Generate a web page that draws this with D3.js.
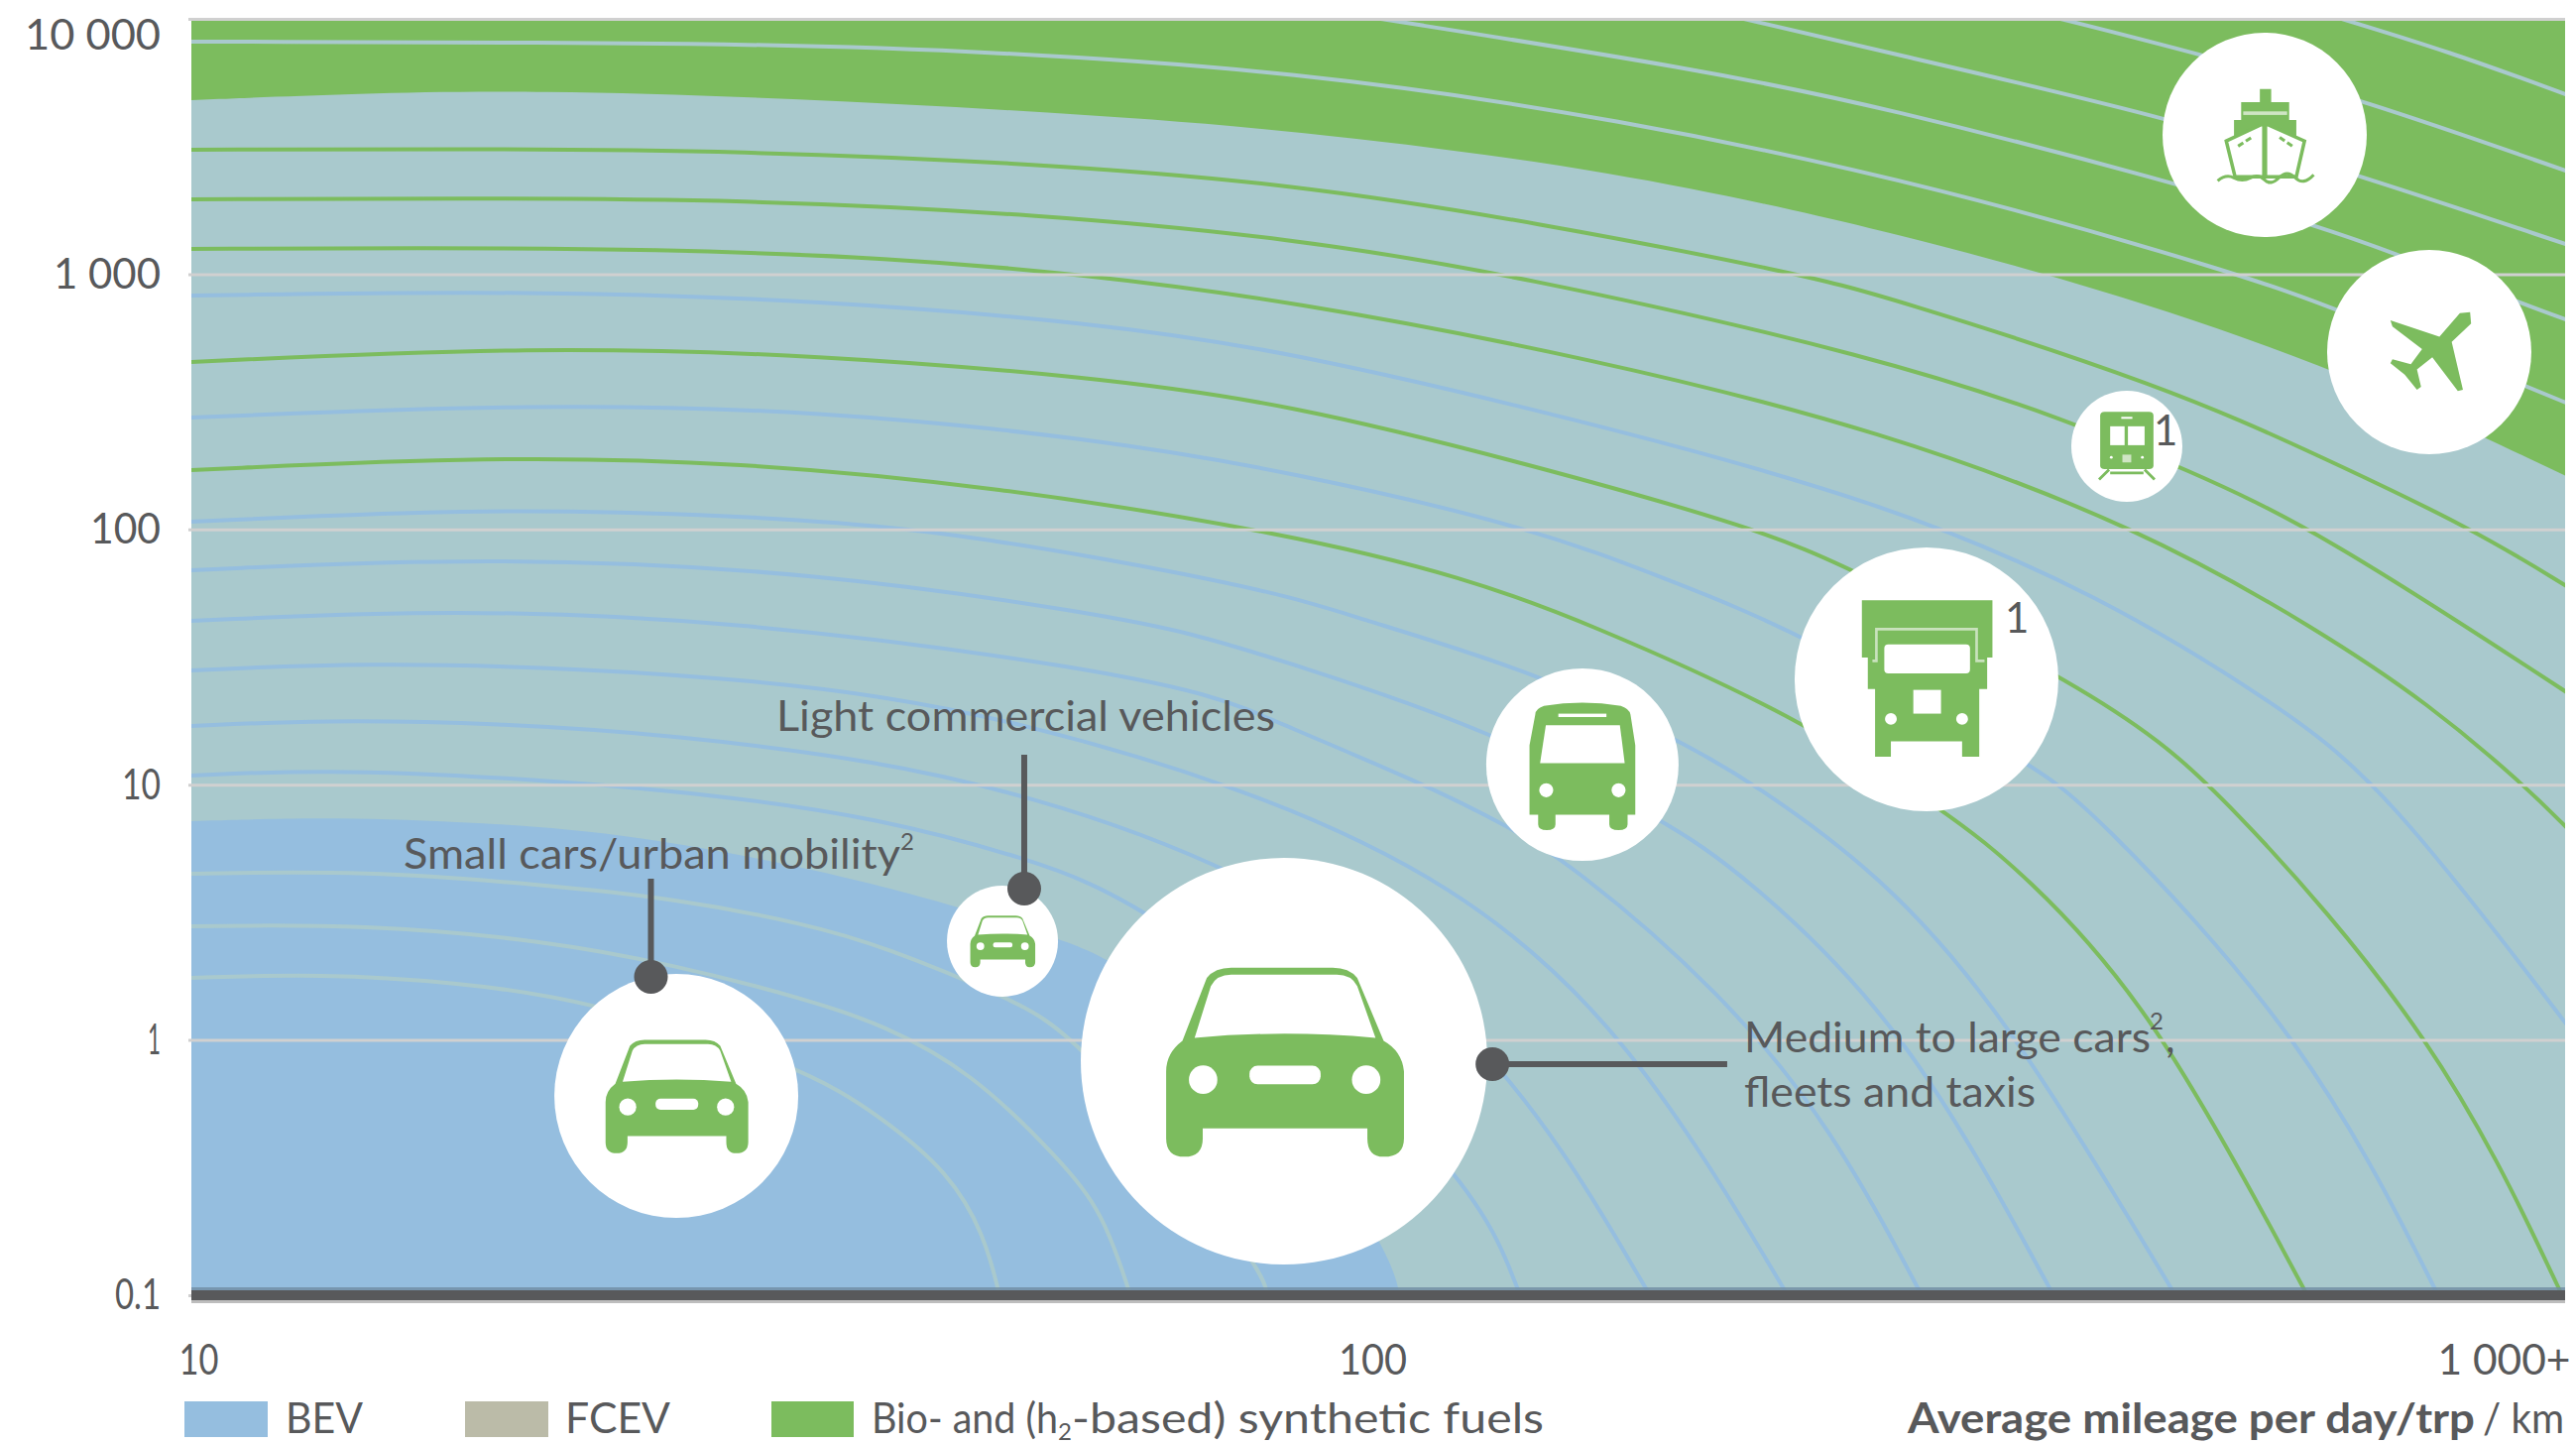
<!DOCTYPE html>
<html><head><meta charset="utf-8"><style>html,body{margin:0;background:#fff}svg{display:block}text{font-family:Lato,sans-serif;fill:#58595b}</style>
<script src="https://cdn.jsdelivr.net/npm/d3@7"></script></head><body>
<script>
// [average mileage per day/trip in km, y-axis value]
const line_top_4=[[640,10180],[798.5,7444],[1006,5022]];
const line_top_3=[[369.9,10180],[490.8,7312],[676.7,4802],[1006,2522]];
const line_top_2=[[199.9,10180],[266.7,7444],[458.8,4162],[676.7,2411],[1006,1301]];
const line_top_1=[[98.09,10180],[186.9,6337],[266.7,4511],[465.9,2306],[621.8,1528],[718.3,1211],[918.8,767.4],[1006,659.1]];
const line_top_0=[[10,8140],[28.97,8068],[47.23,7444],[84.1,6280],[159.3,4088],[301.1,2166],[534.1,994.6],[637.5,740.4],[938.5,355.5],[1006,310.9]];
const green_1=[[10,3070],[17.04,3098],[28.97,3043],[51.99,2709],[84.1,2265],[135.8,1598],[226.1,1004],[266.7,824.3],[462.4,362],[621.8,193.5],[836.2,100.7],[1006,59.41]];
const green_2=[[10,1963],[17.04,1981],[28.97,1963],[51.99,1717],[84.1,1385],[129.4,1004],[266.7,469.2],[383.7,264.7],[478.7,172.3],[617,100.7],[1006,22.81]];
const green_3=[[10,1255],[15.48,1266],[24.7,1255],[38.96,1158],[55.72,1004],[84.1,788.2],[149.8,473.4],[266.7,244.2],[439.8,100.7],[621.8,40.08],[768.3,20.68],[920.6,10.11],[1006,6.698]];
const blue_1=[[10,824.3],[19.46,862],[33.99,788.2],[57.24,647.4],[84.1,499.5],[149.8,264.7],[266.7,128.2],[407.2,54.82],[571.3,20.68],[701.9,10.11],[1006,1.129]];
const green_4=[[10,452.7],[19.46,522.3],[33.99,481.9],[57.24,395.8],[84.1,310.9],[136,177],[208.9,100.7],[250.3,70.42],[374.2,27.04],[434.8,17.29],[506.1,10.11],[784.8,1.014],[994.2,0.1]];
const blue_2=[[10,274.3],[19.46,310.9],[33.99,292],[57.24,227.3],[84.1,169.2],[135.8,100.7],[174,64.4],[226.9,39.73],[355.9,11.87],[391.9,8.76],[607.6,1.014],[781.7,0.1]];
const green_5=[[10,170.7],[17.95,193.5],[28.97,183.4],[47.23,148],[84.1,96.31],[118.9,64.4],[149.5,43.44],[225.2,18.57],[301.1,7.868],[349.8,4.519],[448.4,1.363],[606.4,0.1]];
const blue_3=[[10,107.2],[17.95,121.5],[28.97,113.1],[39.87,102.5],[57.24,79.11],[84.1,55.31],[94.21,46.25],[136.3,27.53],[179.8,14.85],[207.3,10.11],[264.2,4.519],[336.6,1.303],[469.5,0.1]];
const blue_4=[[10,69.17],[17.95,78.4],[33.99,67.95],[58.69,46.25],[69.39,39.37],[84.1,30.1],[124.5,16.39],[174.7,7.195],[202.6,4.519],[278.3,1.15],[370.6,0.1]];
const blue_5=[[10,43.83],[16.59,48.8],[28.97,43.83],[54.87,29.57],[72.8,22.61],[82.82,17.29],[109,10.11],[127.2,7.067],[145.2,4.942],[194.6,1.545],[242.3,0.4415],[287,0.1]];
const blue_6=[[10,28.03],[14.03,30.1],[21.54,28.53],[30.34,25.4],[38.22,22.21],[49.46,17.76],[75.66,10.11],[116.2,4.207],[163.6,1.042],[221.3,0.1]];
const blue_7=[[10,16.98],[12.87,17.92],[18.12,17.44],[25.57,15.67],[38.22,12.31],[50.32,9.161],[74.65,5.031],[123.3,1.224],[169.4,0.1]];
const blue_8=[[10,10.86],[12.87,11.46],[18.12,10.76],[27.88,9.161],[38.22,7.325],[49.84,5.261],[64.49,3.455],[118.7,0.3406],[131.7,0.1]];
const fcev_3=[[10,4.478],[14.03,4.6],[19.76,4.059],[25.57,3.581],[33.09,2.838],[38.22,2.331],[48.8,1.464],[56.05,1.042],[79.69,0.1308],[80.62,0.1]];
const fcev_2=[[10,2.788],[14.03,2.838],[19.76,2.459],[25.57,1.967],[33.09,1.438],[38.22,1.15],[45.36,0.7551],[53.93,0.3406],[58.69,0.2101],[61.82,0.1]];
const fcev_1=[[10,1.751],[12.87,1.814],[16.65,1.689],[21.54,1.438],[32.52,0.8039],[38.22,0.4959],[43.48,0.3032],[46.59,0.1726],[47.96,0.1]];
const greenBoundary=[[10,4802],[13.79,5112],[19.46,5251],[32.14,4889],[53,4313],[84.1,3705],[159.3,2544],[266.7,1488],[377.1,968.3],[621.8,460.8],[1006,160.4]];
const bevBoundary=[[10,7.195],[12.87,7.457],[16.65,7.195],[23.45,6.521],[38.22,4.132],[53.62,2.504],[59.26,2.131],[79.39,0.8258],[101.7,0.1592],[104.3,0.1]];
const bubbleKm=[25.62,48.24,83.3,148.6,289.7,427.3,768.3,558.3];
const bubbleValue=[0.6038,2.438,0.8258,11.98,25.86,211.6,495,3511];
const bubbleSize=[123,56,205,97,133,56,103,103];
const bubbleKind=['car','car','car','bus','truck','train','plane','ship'];
const yTicks=[0.1,1,10,100,1000,10000];
const yTickLabels=['0.1','1','10','100','1 000','10 000'];
const xTicks=[10,100,1000];
const xTickLabels=['10','100','1 000+'];
const legendLabels=['BEV','FCEV'];

const W=2598,H=1456;
const x=d3.scaleLog().domain([10,1000]).range([193,2587]);
const y=d3.scaleLog().domain([0.1,10000]).range([1306,19]);
const GREEN='#7cbc5e',BLUE='#95bedf',TEAL='#a9c9cd',FCEV='#bbbba8',INK='#58595b';
const line=d3.line().x(d=>x(d[0])).y(d=>y(d[1])).curve(d3.curveBasis);
const svg=d3.select('body').append('svg').attr('width',W).attr('height',H);
svg.append('defs').append('clipPath').attr('id','plot').append('rect').attr('x',193).attr('y',19).attr('width',2394).attr('height',1291);
const g=svg.append('g').attr('clip-path','url(#plot)');
g.append('rect').attr('x',193).attr('y',19).attr('width',2394).attr('height',1291).attr('fill',TEAL);
g.append('path').attr('d',line(greenBoundary)+`L${x(1000)+5},${y(10000)-5}L${x(10)},${y(10000)-5}Z`).attr('fill',GREEN);
g.append('path').attr('d',line(bevBoundary)+`L${x(10)},${y(0.1)+5}Z`).attr('fill',BLUE);
[[line_top_4,TEAL],[line_top_3,TEAL],[line_top_2,TEAL],[line_top_1,TEAL],[line_top_0,TEAL],
 [green_1,GREEN],[green_2,GREEN],[green_3,GREEN],[blue_1,BLUE],[green_4,GREEN],[blue_2,BLUE],[green_5,GREEN],
 [blue_3,BLUE],[blue_4,BLUE],[blue_5,BLUE],[blue_6,BLUE],[blue_7,BLUE],[blue_8,BLUE],
 [fcev_3,TEAL],[fcev_2,TEAL],[fcev_1,TEAL]].forEach(([d,c])=>
 g.append('path').datum(d).attr('d',line).attr('fill','none').attr('stroke',c).attr('stroke-width',4));

const yWidths=[46,13,39,71,108,137];
const yAxis=d3.axisLeft(y).tickValues(yTicks).tickSize(-2397).tickPadding(0).tickFormat((d,i)=>yTickLabels[i]);
const ya=svg.append('g').attr('transform','translate(190,0)').call(yAxis);
ya.select('.domain').remove();
ya.selectAll('line').attr('stroke','#d0d0d0').attr('stroke-width',3);
ya.selectAll('text').attr('x',-28).attr('dy',null).attr('y',d=>d===10000?30:(d===0.1?13:14)).attr('font-size',42).attr('text-anchor','end').attr('textLength',(d,i)=>yWidths[i]).attr('lengthAdjust','spacingAndGlyphs');
const xWidths=[40,69,134];
const xAxis=d3.axisBottom(x).tickValues(xTicks).tickSize(0).tickFormat((d,i)=>xTickLabels[i]);
const xa=svg.append('g').attr('transform','translate(0,1306)').call(xAxis);
xa.select('.domain').remove();
xa.selectAll('text').attr('y',80).attr('dy',null).attr('font-size',42).attr('lengthAdjust','spacingAndGlyphs').attr('textLength',(d,i)=>xWidths[i]);
xa.selectAll('text').filter(d=>d===10).attr('dx',7);
xa.selectAll('text').filter(d=>d===100).attr('dx',-6);
xa.selectAll('text').filter(d=>d===1000).attr('text-anchor','end').attr('dx',5);
svg.append('rect').attr('x',193).attr('y',1298).attr('width',2394).attr('height',3).attr('fill','#6f8ca3').attr('opacity',.8);
svg.append('rect').attr('x',193).attr('y',1301).attr('width',2394).attr('height',10).attr('fill',INK);
svg.append('rect').attr('x',193).attr('y',1311).attr('width',2394).attr('height',3).attr('fill','#bdbdbd');

function T(str,xx,yy,w,o={}){const t=svg.append('text').attr('x',xx).attr('y',yy).attr('font-size',o.size||42).text(str);
 if(w)t.attr('textLength',w).attr('lengthAdjust','spacingAndGlyphs');if(o.bold)t.attr('font-weight',700);return t;}
const P=(I,d,f=GREEN)=>I.append('path').attr('d',d).attr('fill',f);
const CC=(I,cx,cy,r,f='#fff')=>I.append('circle').attr('cx',cx).attr('cy',cy).attr('r',r).attr('fill',f);
const icons={
car:I=>{P(I,'M-50,-10L-38,-41Q-34,-46 -26,-46L24,-46Q32,-46 36,-41L49,-10Q58,-5 59,5L59,38Q59,47 49,47Q41,47 41,38L41,33L-40,33L-40,38Q-40,47 -49,47Q-58,47 -58,38L-58,5Q-58,-4 -50,-10Z');
 P(I,'M-44,-11.5L-36,-37Q-33,-42.5 -26,-42.5L26,-42.5Q33,-42.5 36,-37L45,-11.5Q0,-15.5 -44,-11.5Z','#fff');
 CC(I,-39.8,9.1,7);CC(I,40.4,9.1,7);I.append('rect').attr('x',-17).attr('y',2.2).attr('width',35).attr('height',9.2).attr('rx',4).attr('fill','#fff');},
bus:I=>{P(I,'M-49,-52Q-49,-58 -40,-61Q0,-68 40,-61Q49,-58 50,-52L55,-20L55,52L47,52L47,62Q47,68 37.5,68Q28,68 28,62L28,52L-28,52L-28,62Q-28,68 -37,68Q-46,68 -46,62L-46,52L-55,52L-55,-20Z');
 P(I,'M-38,-41L39,-41L44,-1.5L-44,-1.5Z','#fff');I.append('rect').attr('x',-25).attr('y',-53).attr('width',50).attr('height',3.5).attr('fill','#fff');
 CC(I,-37.6,26.6,7.3);CC(I,37.6,26.6,7.3);},
truck:I=>{P(I,'M-49,-60L50,-60L50,-16.5L46,-16.5L46,7.3L40,7.3L40,47L40,58.6L27,58.6L27,47L-27,47L-27,58.6L-39,58.6L-39,7.3L-44.5,7.3L-44.5,-16.5L-49,-16.5Z');
 I.append('path').attr('d','M-41,-14L-38,-14L-38,-38L38,-38L38,-14L44,-14').attr('fill','none').attr('stroke','#c9e2bd').attr('stroke-width',2);
 I.append('rect').attr('x',-32).attr('y',-26.5).attr('width',65).attr('height',22).attr('rx',3).attr('fill','#fff');
 I.append('rect').attr('x',-10).attr('y',8).attr('width',21).attr('height',18).attr('fill','#fff');CC(I,-27,30,4.5);CC(I,27,30,4.5);},
train:I=>{P(I,'M-48,-55Q-48,-62 -40,-62L40,-62Q48,-62 48,-55L48,35Q48,41 40,41L-40,41Q-48,41 -48,35Z');
 I.append('rect').attr('x',-30).attr('y',-36).attr('width',26).attr('height',34).attr('fill','#fff');I.append('rect').attr('x',2).attr('y',-36).attr('width',30).attr('height',34).attr('fill','#fff');
 I.append('rect').attr('x',-10).attr('y',-53).attr('width',20).attr('height',3.5).attr('fill','#fff');I.append('rect').attr('x',-8).attr('y',15).attr('width',16).attr('height',14).attr('fill','#cfe5c4');CC(I,-28,20,2.5);CC(I,28,20,2.5);
 I.append('path').attr('d','M-32,42L-50,60M32,42L50,60M-30,48L30,48').attr('stroke',GREEN).attr('stroke-width',5).attr('fill','none');},
ship:I=>{P(I,'M-4.7,-45L6.4,-45L6.4,-32L24,-32L24,-14.5L31,-14.5L31,8L-30,8L-30,-14.5L-23,-14.5L-23,-32L-4.7,-32Z');
 I.append('rect').attr('x',-21).attr('y',-23).attr('width',43).attr('height',3.5).attr('fill','#cfe5c4');
 I.append('path').attr('d','M-37.6,6L-3.4,-10L3,-10L39,6L31,41L-29,41Z').attr('fill','#fff').attr('stroke',GREEN).attr('stroke-width',3.4);
 I.append('path').attr('d','M0,-10L0,41').attr('stroke',GREEN).attr('stroke-width',5);
 I.append('path').attr('d','M-46,45Q-38,38 -30,42T-14,42T0,44T14,42T30,42T48,39').attr('fill','none').attr('stroke',GREEN).attr('stroke-width',3);
 I.append('path').attr('d','M-26,11L-12,2M27,11L14,2').attr('stroke',GREEN).attr('stroke-width',3).attr('stroke-dasharray','6 3');},
plane:I=>{P(I,'M40,-39L30,-38L10,-15L-38,-31L-36,-25L-7,-3L-18,12L-36,7L-38,11L-24,22L-12,37L-8,34L-12,17L3,5L28,38L33,37L22,-10L41,-28Z');}
};
bubbleKm.forEach((km,i)=>{const r=bubbleSize[i];
 const G=svg.append('g').attr('transform',`translate(${x(km)},${y(bubbleValue[i])})`);
 G.append('circle').attr('r',r).attr('fill','#fff');
 icons[bubbleKind[i]](G.append('g').attr('transform',`scale(${r/100})`));});

// leader lines: [km, value] at the dot, [km, value] at the free end
const leaders=[[[24.39,1.766],[24.39,4.283]],[[50.32,3.916],[50.32,13.1]],[[124.8,0.8039],[196.8,0.8039]]];
leaders.forEach(([a,b])=>{svg.append('line').attr('x1',x(a[0])).attr('y1',y(a[1])).attr('x2',x(b[0])).attr('y2',y(b[1])).attr('stroke',INK).attr('stroke-width',6);
 svg.append('circle').attr('cx',x(a[0])).attr('cy',y(a[1])).attr('r',17).attr('fill',INK);});

T('Small cars/urban mobility',407,876,501);T('2',908,857,0,{size:24});
T('Light commercial vehicles',783,737,503);
T('Medium to large cars',1759,1061,410);T('2',2168,1038,0,{size:24});T(',',2184,1061);
T('fleets and taxis',1759,1116,294);
T('1',2172,449);T('1',2022,638);
[[legendLabels[0],186,84,288,78,BLUE],[legendLabels[1],469,84,570,106,FCEV]].forEach(l=>{
 svg.append('rect').attr('x',l[1]).attr('y',1413).attr('width',l[2]).attr('height',36).attr('fill',l[5]);T(l[0],l[3],1445,l[4]);});
svg.append('rect').attr('x',778).attr('y',1413).attr('width',83).attr('height',36).attr('fill',GREEN);
T('Bio- and (h',879,1445,188);T('2',1067,1452,0,{size:24});T('-based) synthetic fuels',1081,1445,476);
T('Average mileage per day/trp',1924,1445,572,{bold:true});T('/ km',2504,1445,82);
</script></body></html>
